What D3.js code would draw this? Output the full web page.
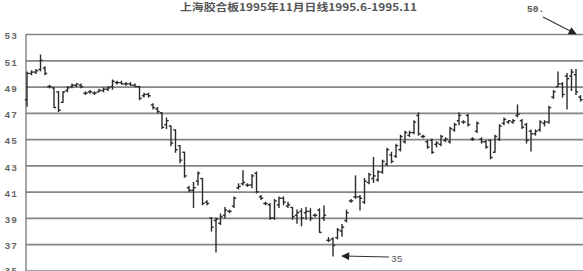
<!DOCTYPE html>
<html>
<head>
<meta charset="utf-8">
<script src="https://cdn.jsdelivr.net/npm/d3@7"></script>
<style>
body { margin: 0; background: #fff; }
svg { display: block; }
</style>
</head>
<body>
<script>
// 上海胶合板 1995.6-1995.11 daily bars
var opens = [
  48.0,50.0,50.1,50.3,50.4,49.0,48.9,48.6,47.8,48.7,
  49.0,49.1,49.1,48.5,48.6,48.5,48.6,48.7,48.8,49.0,
  49.3,49.3,49.2,49.2,49.1,49.0,48.3,48.4,47.6,47.3,
  47.0,46.1,46.0,45.7,44.5,44.0,41.3,41.1,41.8,42.0,
  40.2,39.0,38.8,
  38.6,39.2,39.5,39.9,41.3,41.6,41.5,41.5,42.4,40.6,
  40.1,40.0,39.0,40.0,40.5,39.9,39.8,39.2,39.5,39.4,
  39.5,39.2,39.6,39.0,37.3,37.4,37.5,38.0,38.8,40.3,
  40.6,40.6,40.2,41.7,42.0,41.9,42.5,43.1,43.8,43.7,
  44.2,44.8,45.3,45.5,46.8,45.2,44.8,44.9,44.6,44.6,
  44.9,44.8,45.7,46.4,46.3,46.8,45.0,45.6,45.0,44.8,
  44.9,44.0,45.0,46.2,46.3,46.3,46.8,46.4,46.1,45.6,
  45.4,45.7,46.2,46.3,48.2,49.0,49.2,49.8,49.8,49.9,
  48.2
];
var highs = [
  50.1,50.2,50.3,51.4,50.5,49.1,48.9,48.6,48.6,49.0,
  49.2,49.2,49.2,48.6,48.7,48.6,48.8,48.9,49.0,49.5,
  49.4,49.4,49.3,49.3,49.2,49.0,48.5,48.5,47.7,47.4,
  47.0,46.6,46.0,45.7,44.5,44.0,41.4,41.7,42.5,42.0,
  40.3,39.0,39.0,
  39.3,39.8,39.6,40.6,41.6,42.6,41.6,42.3,42.5,40.7,
  40.2,40.1,40.4,40.6,40.6,40.2,39.8,39.6,39.7,39.8,
  39.7,39.3,39.7,39.9,37.5,37.5,38.2,38.5,39.6,40.4,
  42.2,40.7,42.0,42.4,43.6,42.6,43.4,44.3,44.0,44.6,
  45.3,45.6,45.6,46.4,47.0,45.3,44.9,45.0,44.8,45.3,
  45.1,45.9,46.2,47.0,46.4,46.9,45.1,46.3,45.1,44.9,
  44.9,45.3,46.1,46.6,46.4,46.5,47.6,46.5,46.2,45.7,
  45.7,46.4,46.4,47.5,48.7,50.1,49.3,50.0,50.3,50.3,
  48.3
];
var lows = [
  47.5,49.9,50.0,50.2,49.9,48.9,47.4,47.1,47.8,48.6,
  48.9,49.0,48.9,48.4,48.5,48.4,48.6,48.6,48.7,48.8,
  49.2,49.2,49.1,49.1,49.0,48.0,48.2,48.2,47.3,47.0,
  45.8,45.8,44.5,44.0,43.2,42.1,41.0,39.8,41.5,40.0,
  40.0,38.0,36.4,
  38.5,39.0,39.4,39.8,41.2,41.5,41.4,41.3,40.9,40.4,
  40.0,38.9,38.9,39.8,40.0,39.8,38.9,38.6,38.4,38.9,
  38.8,39.1,37.9,38.8,37.2,36.1,37.4,37.6,38.7,40.2,
  40.5,39.6,40.1,41.6,41.7,41.8,42.4,43.0,43.2,43.6,
  44.1,44.7,45.2,45.4,45.3,45.1,44.3,43.9,44.4,44.5,
  44.8,44.7,45.6,46.1,46.2,46.0,44.9,45.5,44.7,44.3,
  43.5,44.0,44.9,46.1,46.2,46.2,46.7,45.8,44.7,44.1,
  45.3,45.6,46.0,46.2,48.1,49.0,48.2,47.3,48.7,48.4,
  47.9
];
var closes = [
  50.0,50.1,50.2,51.0,50.0,49.0,47.4,47.2,48.6,48.9,
  49.1,49.2,49.0,48.5,48.6,48.5,48.7,48.8,48.9,49.4,
  49.3,49.2,49.2,49.1,49.0,48.1,48.4,48.3,47.4,47.1,
  45.9,46.4,44.7,44.2,43.4,42.2,41.1,41.3,42.4,40.1,
  40.1,38.3,38.9,
  39.1,39.6,39.5,40.5,41.4,41.7,41.5,42.2,41.0,40.5,
  40.1,39.0,40.3,40.5,40.2,40.0,39.1,39.4,39.0,39.5,
  39.0,39.2,37.9,39.2,37.3,36.9,38.1,38.3,39.4,40.3,
  40.6,40.5,41.8,42.3,42.2,42.5,43.3,44.2,43.3,44.5,
  45.2,45.5,45.5,46.3,45.4,45.2,44.4,44.0,44.7,45.2,
  45.0,45.8,46.1,46.8,46.3,46.1,45.0,46.2,44.8,44.4,
  43.6,45.2,46.0,46.5,46.4,46.4,46.9,45.9,44.9,45.4,
  45.6,46.3,46.3,47.4,48.6,49.2,48.4,49.6,50.1,48.6,
  48.0
];
var yTicks = [53, 51, 49, 47, 45, 43, 41, 39, 37, 35];
var title = "上海胶合板1995年11月日线1995.6-1995.11";
var noteHigh = "50.";
var noteLow = "35";

var width = 583, height = 271;

var svg = d3.select("body").append("svg")
  .attr("width", width)
  .attr("height", height);

var bars = opens.map(function(o, i) {
  return {day: i, o: o, h: highs[i], l: lows[i], c: closes[i]};
});

var x = d3.scaleLinear().domain([0, bars.length - 1]).range([27, 580.5]);
var y = d3.scaleLinear().domain([35, 53]).range([270.5, 34]);

// horizontal grid + labels
var yAxis = d3.axisLeft(y)
  .tickValues(yTicks)
  .tickSize(-(width - 26))
  .tickPadding(8)
  .tickFormat(d3.format("d"));

var gy = svg.append("g")
  .attr("transform", "translate(26,0)")
  .call(yAxis);
gy.select(".domain").remove();
gy.selectAll(".tick line")
  .attr("stroke", "#858585")
  .attr("stroke-width", 1.7);
gy.selectAll(".tick text")
  .attr("fill", "#666")
  .attr("dy", function(d) { return d === 35 ? "0.3em" : "0.5em"; })
  .style("font-family", "'Liberation Mono', monospace")
  .style("font-size", "9.5px")
  .style("font-weight", "bold")
  .style("letter-spacing", "1px");

// vertical axis line
svg.append("line")
  .attr("x1", 26).attr("x2", 26)
  .attr("y1", y(53)).attr("y2", height)
  .attr("stroke", "#777")
  .attr("stroke-width", 1.3);

// OHLC bars
var g = svg.append("g")
  .attr("stroke", "#2a2a2a")
  .attr("stroke-width", 1.4);

var bar = g.selectAll("g.bar")
  .data(bars)
  .enter()
  .append("g")
  .attr("class", "bar");

bar.append("line")
  .attr("x1", function(d) { return x(d.day); })
  .attr("x2", function(d) { return x(d.day); })
  .attr("y1", function(d) { return y(d.h) - 0.5; })
  .attr("y2", function(d) { return y(d.l) + 0.5; });

bar.append("line")
  .attr("x1", function(d) { return x(d.day) - 2.2; })
  .attr("x2", function(d) { return x(d.day); })
  .attr("y1", function(d) { return y(d.o); })
  .attr("y2", function(d) { return y(d.o); });

bar.append("line")
  .attr("x1", function(d) { return x(d.day); })
  .attr("x2", function(d) { return x(d.day) + 2.2; })
  .attr("y1", function(d) { return y(d.c); })
  .attr("y2", function(d) { return y(d.c); });

// title
svg.append("text")
  .attr("x", 180)
  .attr("y", 11)
  .attr("textLength", 237)
  .attr("lengthAdjust", "spacingAndGlyphs")
  .attr("fill", "#555")
  .style("font-family", "'Noto Sans CJK SC', sans-serif")
  .style("font-size", "10px")
  .style("font-weight", "bold")
  .text(title);

// annotations
svg.append("defs").append("marker")
  .attr("id", "head")
  .attr("viewBox", "0 0 10 10")
  .attr("refX", 9).attr("refY", 5)
  .attr("markerWidth", 12).attr("markerHeight", 8)
  .attr("markerUnits", "userSpaceOnUse")
  .attr("orient", "auto")
  .append("path")
  .attr("d", "M0,0L10,5L0,10Z")
  .attr("fill", "#222");

svg.append("text")
  .attr("x", 527).attr("y", 12)
  .attr("fill", "#555")
  .style("font-family", "'Liberation Mono', monospace")
  .style("font-size", "9.5px")
  .style("font-weight", "bold")
  .text(noteHigh);

svg.append("line")
  .attr("x1", 543).attr("y1", 17)
  .attr("x2", 576).attr("y2", 34)
  .attr("stroke", "#333")
  .attr("stroke-width", 1.2)
  .attr("marker-end", "url(#head)");

svg.append("line")
  .attr("x1", 389).attr("y1", 257)
  .attr("x2", 342).attr("y2", 256)
  .attr("stroke", "#333")
  .attr("stroke-width", 1.2)
  .attr("marker-end", "url(#head)");

svg.append("text")
  .attr("x", 391).attr("y", 262)
  .attr("fill", "#555")
  .style("font-family", "'Liberation Mono', monospace")
  .style("font-size", "9.5px")
  .text(noteLow);
</script>
</body>
</html>
